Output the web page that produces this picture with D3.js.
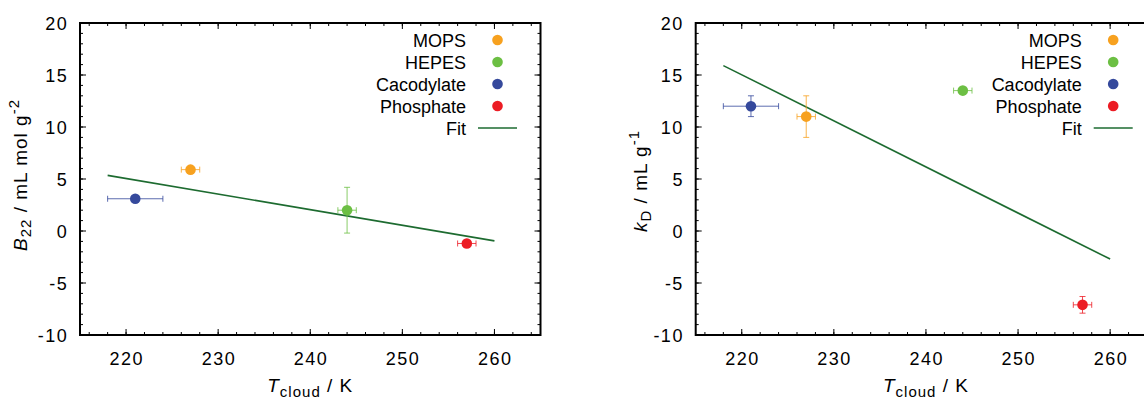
<!DOCTYPE html>
<html>
<head>
<meta charset="utf-8">
<script src="https://cdn.jsdelivr.net/npm/d3@7"></script>
<style>
  body { margin: 0; background: #fff; }
  svg text { font-family: "Liberation Sans", Arial, sans-serif; }
</style>
</head>
<body>
<div id="chart"></div>
<script>
// buffers, legend order
var buffers = ['MOPS', 'HEPES', 'Cacodylate', 'Phosphate'];
var colors = ['#f7a11f', '#6cbf43', '#35499c', '#ec1c24'];
var tCloud = [227, 244, 221, 257];
var tCloudErr = [1, 1, 3, 1];

var b22 = [5.9, 2.0, 3.1, -1.2];
var b22Err = [0.15, 2.2, 0.2, 0.15];
var b22Fit = [[218, 5.35], [260, -0.95]];

var kD = [11.0, 13.5, 12.0, -7.1];
var kDErr = [2.0, 0.2, 1.0, 0.8];
var kDFit = [[218, 15.9], [260, -2.7]];

var xTicks = [220, 230, 240, 250, 260];
var yTicks = [-10, -5, 0, 5, 10, 15, 20];

var W = 1144, H = 399;
var svg = d3.select('#chart').append('svg')
    .attr('width', W).attr('height', H);

function drawPanel(left, yVals, yErr, fit, ylab) {
    var top = 23, bottom = 335, right = left + 460.5;
    var x = d3.scaleLinear().domain([215, 265]).range([left, right]);
    var y = d3.scaleLinear().domain([-10, 20]).range([bottom, top]);
    var g = svg.append('g');

    // minor ticks
    var xMinor = d3.range(216, 265, 2);
    var yMinor = d3.range(-9, 20, 1);
    g.selectAll('.xmin').data(xMinor).enter().append('path')
        .attr('d', function(d){ return 'M'+x(d)+','+bottom+'v-3M'+x(d)+','+top+'v3'; })
        .attr('stroke', '#000').attr('stroke-width', 1);
    g.selectAll('.ymin').data(yMinor).enter().append('path')
        .attr('d', function(d){ return 'M'+left+','+y(d)+'h3M'+right+','+y(d)+'h-3'; })
        .attr('stroke', '#000').attr('stroke-width', 1);
    // major ticks
    g.selectAll('.xmaj').data(xTicks).enter().append('path')
        .attr('d', function(d){ return 'M'+x(d)+','+bottom+'v-6M'+x(d)+','+top+'v6'; })
        .attr('stroke', '#000').attr('stroke-width', 1);
    g.selectAll('.ymaj').data(yTicks).enter().append('path')
        .attr('d', function(d){ return 'M'+left+','+y(d)+'h6M'+right+','+y(d)+'h-6'; })
        .attr('stroke', '#000').attr('stroke-width', 1);

    // tick labels (letter-spacing widens the digits like the original)
    g.selectAll('.xl').data(xTicks).enter().append('text')
        .attr('x', function(d){ return x(d) + 0.75; }).attr('y', 365)
        .attr('text-anchor', 'middle').attr('font-size', 18)
        .attr('letter-spacing', 1.5)
        .text(function(d){ return d; });
    g.selectAll('.yl').data(yTicks).enter().append('text')
        .attr('x', left - 13.3 + 1.5).attr('y', function(d){ return y(d) + 6.5; })
        .attr('text-anchor', 'end').attr('font-size', 18)
        .attr('letter-spacing', 1.5)
        .text(function(d){ return d; });

    // frame
    g.append('rect').attr('x', left).attr('y', top)
        .attr('width', right - left).attr('height', bottom - top)
        .attr('fill', 'none').attr('stroke', '#000').attr('stroke-width', 2);

    // fit line
    g.append('path').datum(fit)
        .attr('d', d3.line().x(function(d){ return x(d[0]); }).y(function(d){ return y(d[1]); }))
        .attr('stroke', '#1d6b30').attr('stroke-width', 1.6).attr('fill', 'none');

    // error bars + points
    buffers.forEach(function(b, i) {
        var px = x(tCloud[i]), py = y(yVals[i]);
        var x0 = x(tCloud[i] - tCloudErr[i]), x1 = x(tCloud[i] + tCloudErr[i]);
        var y0 = y(yVals[i] - yErr[i]), y1 = y(yVals[i] + yErr[i]);
        g.append('path')
            .attr('d', 'M'+x0+','+py+'H'+x1+'M'+x0+','+(py-3)+'v6M'+x1+','+(py-3)+'v6'
                + 'M'+px+','+y0+'V'+y1+'M'+(px-3)+','+y0+'h6M'+(px-3)+','+y1+'h6')
            .attr('stroke', colors[i]).attr('stroke-width', 1).attr('fill', 'none')
            .attr('opacity', 0.8);
        g.append('circle').attr('cx', px).attr('cy', py).attr('r', 5.3)
            .attr('fill', colors[i]);
    });

    // legend
    var lx = left + 386, mx = left + 417.5;
    buffers.forEach(function(b, i) {
        var ly = 40 + i * 22;
        g.append('text').attr('x', lx).attr('y', ly + 6.5)
            .attr('text-anchor', 'end').attr('font-size', 18).text(b);
        g.append('circle').attr('cx', mx).attr('cy', ly).attr('r', 5.3).attr('fill', colors[i]);
    });
    g.append('text').attr('x', lx).attr('y', 128 + 6.5)
        .attr('text-anchor', 'end').attr('font-size', 18).text('Fit');
    g.append('line').attr('x1', left + 398).attr('x2', left + 437)
        .attr('y1', 128).attr('y2', 128)
        .attr('stroke', '#1d6b30').attr('stroke-width', 1.6);

    // x title
    var xt = g.append('text').attr('x', (left + right) / 2).attr('y', 392)
        .attr('text-anchor', 'middle').attr('font-size', 19).attr('letter-spacing', 1);
    xt.append('tspan').attr('font-style', 'italic').text('T');
    xt.append('tspan').attr('font-size', 15).attr('dy', 5).text('cloud');
    xt.append('tspan').attr('dy', -5).text(' / K');

    // y title
    var yt = g.append('text')
        .attr('transform', 'translate(' + ylab.x + ',' + ylab.cy + ') rotate(-90)')
        .attr('text-anchor', 'middle').attr('font-size', 19).attr('letter-spacing', 1);
    yt.append('tspan').attr('font-style', 'italic').text(ylab.sym);
    yt.append('tspan').attr('font-size', 15).attr('dy', 4).text(ylab.sub);
    yt.append('tspan').attr('dy', -4).text(ylab.unit);
    yt.append('tspan').attr('font-size', 15).attr('dy', -8).text(ylab.sup);
}

drawPanel(80, b22, b22Err, b22Fit, {x: 27, cy: 175, sym: 'B', sub: '22', unit: ' / mL mol g', sup: '-2'});
drawPanel(695.7, kD, kDErr, kDFit, {x: 647, cy: 181, sym: 'k', sub: 'D', unit: ' / mL g', sup: '-1'});
</script>
</body>
</html>
